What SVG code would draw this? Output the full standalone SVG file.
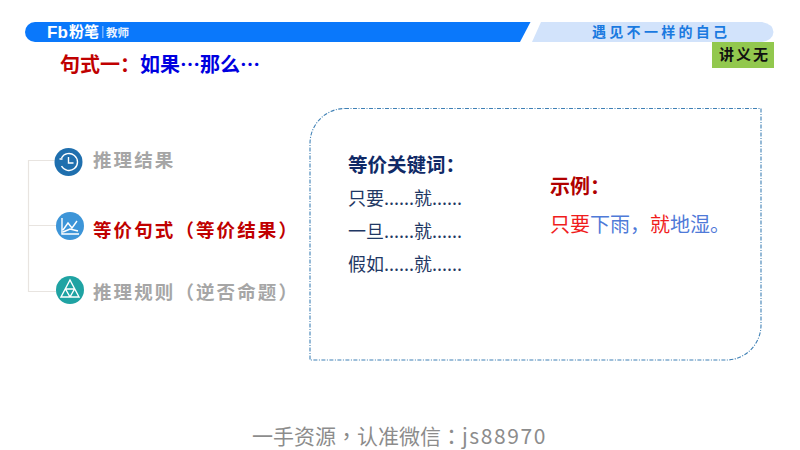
<svg xmlns="http://www.w3.org/2000/svg" width="800" height="450" viewBox="0 0 800 450">
<style>
text{font-family:"Noto Sans CJK SC","Noto Sans",sans-serif}
.item{font-size:18.500px;font-weight:700;letter-spacing:2.100px;fill:#a6a6a6}
.navy{fill:#1f3864;font-size:18px}
.conn{fill:none;stroke:#e8e4e0;stroke-width:1.2}
.ic{fill:none;stroke:#fff;stroke-width:1.4}
.red{fill:#f01c1c}.blue{fill:#4f7ad8}
.tc{font-family:"Noto Sans CJK TC",sans-serif}
</style>
<rect width="800" height="450" fill="#fff"/>
<g id="header">
<path d="M35 22H530.500L520 42H35A10 10 0 0 1 35 22Z" fill="#0a78fb"/>
<path d="M541 22H762Q773 24 773.500 32Q773 40 762 42H532Z" fill="#d2e3fb"/>
<text x="47" y="38" font-size="17" font-weight="700" fill="#fff" style="font-family:'Liberation Sans',sans-serif">Fb</text>
<text x="69" y="37" font-size="15" font-weight="700" fill="#fff">粉笔</text>
<rect x="102.500" y="26" width="0.800" height="12" fill="#cfe3ff"/>
<text x="106" y="37" font-size="11.500" font-weight="700" fill="#e8f2ff">教师</text>
<text x="592" y="37" font-size="14" font-weight="700" letter-spacing="3.300" fill="#1a7ae0">遇见不一样的自己</text>
</g>
<g id="badge">
<rect x="712" y="42" width="62" height="26" fill="#92c84e"/>
<text x="719" y="60" font-size="15" font-weight="700" letter-spacing="2" fill="#111">讲义无</text>
</g>
<text x="60" y="72" font-size="20" font-weight="700"><tspan fill="#c00000">句式一：</tspan><tspan fill="#0000e0">如果…那么…</tspan></text>
<g id="connectors">
<path class="conn" d="M56 160.500H28.500V291.500H56M28.500 225.500H56"/>
</g>
<g id="node-result">
<circle cx="68.500" cy="162" r="14" fill="#1f6fae"/>
<path class="ic" d="M61.500 158A8.500 8.500 0 1 1 61.500 166M68.500 157V163H73.500M59.500 159L62.500 159"/>
<text class="item" x="93" y="167">推理结果</text>
</g>
<g id="node-equivalent">
<circle cx="70" cy="226" r="14" fill="#3d95d8"/>
<path class="ic" d="M62 218V234H79M63 230L68 223L72 228L77 221M63 232L70 229L78 231" stroke-width="1"/>
<text x="93" y="237" font-size="18.500" font-weight="700" letter-spacing="2.100" fill="#c00000">等价句式（等价结果）</text>
</g>
<g id="node-rule">
<circle cx="70" cy="290" r="14" fill="#1fa3a3"/>
<path class="ic" d="M70 280L79 297H61ZM65.500 289H74.500M70 297L65.500 289M70 297L74.500 289"/>
<text class="item" x="93" y="299">推理规则（逆否命题）</text>
</g>
<g id="panel">
<path d="M345 108.500H761V325A35 35 0 0 1 726 360H310V143A35 35 0 0 1 345 108.500Z" fill="#fff" stroke="#3f80b5" stroke-width="1.100" stroke-dasharray="4 1.500 1 1.500"/>
<text x="348" y="172" font-size="19.500" font-weight="700" fill="#102a66">等价关键词：</text>
<text class="navy" x="348" y="205">只要......就......</text>
<text class="navy" x="348" y="238">一旦......就......</text>
<text class="navy" x="348" y="271">假如......就......</text>
<text x="550" y="194" font-size="20" font-weight="700" fill="#b00000">示例：</text>
<text x="550" y="232" font-size="20"><tspan class="red">只要</tspan><tspan class="blue">下雨，</tspan><tspan class="red">就</tspan><tspan class="blue">地湿。</tspan></text>
</g>
<text x="252" y="444" font-size="21" fill="#8c8c8c">一手资源<tspan class="tc">，</tspan>认准微信<tspan class="tc">：</tspan><tspan letter-spacing="1.600">js88970</tspan></text>
</svg>
